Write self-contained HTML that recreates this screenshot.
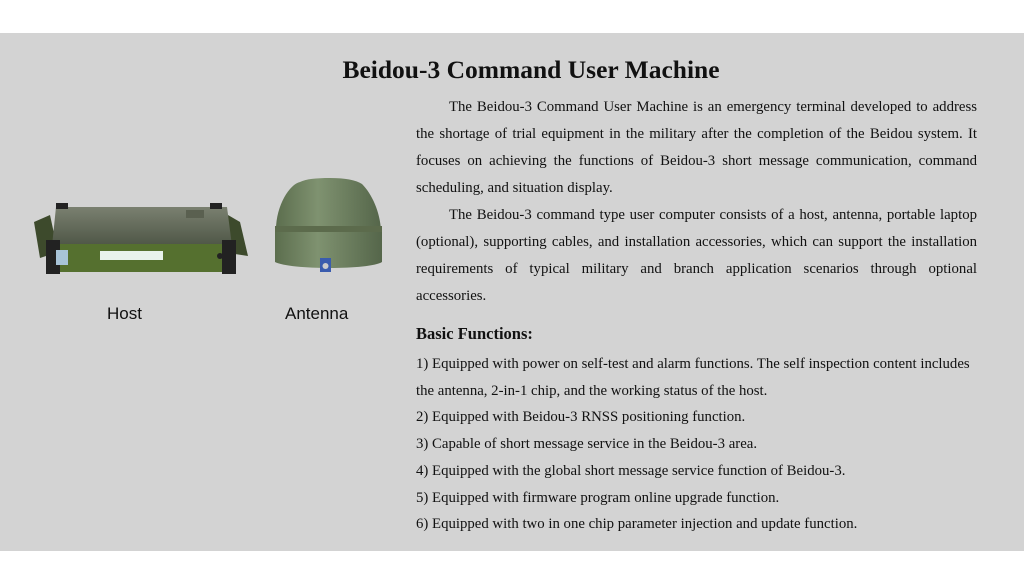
<!DOCTYPE html>
<html><head><meta charset="utf-8"><style>
body{margin:0;width:1024px;height:576px;background:#fff;position:relative;overflow:hidden;font-family:"Liberation Serif",serif;}
#bg{position:absolute;left:0;top:33px;width:1024px;height:518px;background:#d3d3d3;}
.l{position:absolute;font-size:14.8px;color:#111;white-space:nowrap;line-height:18px;}
.j{text-align:justify;text-align-last:justify;width:561px;left:416px;white-space:normal;}
.t{position:absolute;left:0;width:1062px;text-align:center;top:55px;font-size:25.5px;font-weight:bold;color:#111;}
.lab{position:absolute;font-family:"Liberation Sans",sans-serif;font-size:17px;color:#111;}
</style></head><body>
<div id="bg"></div>
<div class="t">Beidou-3 Command User Machine</div>
<div class="l j" style="top:98px;left:449px;width:528px">The Beidou-3 Command User Machine is an emergency terminal developed to address</div>
<div class="l j" style="top:125px">the shortage of trial equipment in the military after the completion of the Beidou system. It</div>
<div class="l j" style="top:152px">focuses on achieving the functions of Beidou-3 short message communication, command</div>
<div class="l" style="top:179px;left:416px">scheduling, and situation display.</div>
<div class="l j" style="top:206px;left:449px;width:528px">The Beidou-3 command type user computer consists of a host, antenna, portable laptop</div>
<div class="l j" style="top:233px">(optional), supporting cables, and installation accessories, which can support the installation</div>
<div class="l j" style="top:260px">requirements of typical military and branch application scenarios through optional</div>
<div class="l" style="top:287px;left:416px">accessories.</div>
<div class="l" style="top:325px;left:416px;font-size:16.5px;font-weight:bold">Basic Functions:</div>
<div class="l" style="top:355px;left:416px">1) Equipped with power on self-test and alarm functions. The self inspection content includes</div>
<div class="l" style="top:382px;left:416px">the antenna, 2-in-1 chip, and the working status of the host.</div>
<div class="l" style="top:408px;left:416px">2) Equipped with Beidou-3 RNSS positioning function.</div>
<div class="l" style="top:435px;left:416px">3) Capable of short message service in the Beidou-3 area.</div>
<div class="l" style="top:462px;left:416px">4) Equipped with the global short message service function of Beidou-3.</div>
<div class="l" style="top:489px;left:416px">5) Equipped with firmware program online upgrade function.</div>
<div class="l" style="top:515px;left:416px">6) Equipped with two in one chip parameter injection and update function.</div>
<svg style="position:absolute;left:0;top:0" width="400" height="300">
<defs>
<linearGradient id="top" x1="0" y1="0" x2="0" y2="1"><stop offset="0" stop-color="#7a8070"/><stop offset="1" stop-color="#4e5646"/></linearGradient>
<linearGradient id="ant" x1="0" y1="0" x2="1" y2="0"><stop offset="0" stop-color="#5c6e4e"/><stop offset=".4" stop-color="#7f9270"/><stop offset="1" stop-color="#55664a"/></linearGradient>
</defs>
<path d="M34 222 L50 215 L58 252 L40 258 Z" fill="#3d4a2c"/>
<path d="M240 222 L228 215 L222 252 L248 256 Z" fill="#3d4a2c"/>
<path d="M56 207 L227 207 L232 246 L52 246 Z" fill="url(#top)"/>
<rect x="46" y="244" width="186" height="28" fill="#55702f"/>
<rect x="46" y="240" width="14" height="34" fill="#222"/>
<rect x="222" y="240" width="14" height="34" fill="#222"/>
<rect x="56" y="203" width="12" height="6" fill="#222"/><rect x="210" y="203" width="12" height="6" fill="#222"/>
<rect x="56" y="250" width="12" height="15" fill="#a8c4d8"/>
<rect x="100" y="251" width="63" height="9" fill="#e8f2ec"/>
<rect x="186" y="210" width="18" height="8" fill="#5a6050"/>
<circle cx="220" cy="256" r="3" fill="#222"/>
<path d="M276 230 C276 205 290 184 300 182 C306 179 316 178 330 178 C345 178 356 180 362 184 C372 194 380 212 381 230 Z" fill="url(#ant)"/>
<path d="M275 226 L382 226 L382 262 C370 270 290 270 275 262 Z" fill="url(#ant)"/>
<rect x="275" y="226" width="107" height="6" fill="#5c6b4c"/>
<rect x="320" y="258" width="11" height="14" fill="#3a5cae"/>
<circle cx="325.5" cy="266" r="3" fill="#ccc"/>
</svg>
<div class="lab" style="left:107px;top:304px">Host</div>
<div class="lab" style="left:285px;top:304px">Antenna</div>
</body></html>
